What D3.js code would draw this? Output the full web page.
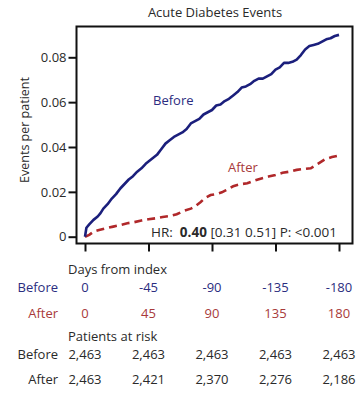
<!DOCTYPE html>
<html><head><meta charset="utf-8">
<script src="https://cdn.jsdelivr.net/npm/d3@7"></script>
<style>body{margin:0;background:#fff;} text{font-family:"Open Sans",sans-serif;}</style>
</head><body>
<svg id="c" width="364" height="408"></svg>
<script>
const title = "Acute Diabetes Events";
const yTicks = [0, 0.02, 0.04, 0.06, 0.08];
const xTicks = [0, 45, 90, 135, 180];
const beforeDayLabels = ["0", "-45", "-90", "-135", "-180"];
const afterDayLabels = ["0", "45", "90", "135", "180"];
const beforeAtRisk = ["2,463", "2,463", "2,463", "2,463", "2,463"];
const afterAtRisk = ["2,463", "2,421", "2,370", "2,276", "2,186"];
const beforeDays = [0,1,3,6,9,11,13,16,19,22,25,28,31,34,37,40,43,47,51,54,57,60,63,66,69,72,75,78,81,84,87,90,93,96,99,102,105,108,111,114,117,120,123,126,129,132,135,138,141,144,147,150,153,156,159,162,165,168,171,174,177,180];
const beforeVals = [0,0.004,0.0055,0.0075,0.009,0.0105,0.0125,0.0145,0.017,0.019,0.0215,0.0235,0.0255,0.027,0.029,0.0305,0.0325,0.0345,0.0365,0.039,0.0415,0.043,0.0445,0.0455,0.0465,0.048,0.0505,0.0515,0.0525,0.0545,0.0555,0.0565,0.0585,0.059,0.0605,0.0615,0.063,0.0645,0.0665,0.067,0.068,0.0695,0.0705,0.0705,0.0715,0.0725,0.0745,0.0755,0.0775,0.0775,0.078,0.079,0.081,0.0835,0.085,0.0855,0.086,0.087,0.088,0.0885,0.0895,0.09];
const afterDays = [0,3,6,10,15,20,25,30,35,40,45,50,55,60,65,70,75,78,82,85,89,93,97,100,105,110,115,120,125,130,135,140,145,150,155,160,165,170,175,180];
const afterVals = [0,0.0008,0.0022,0.003,0.0038,0.0045,0.0052,0.006,0.0065,0.0072,0.0078,0.0082,0.0088,0.0092,0.01,0.0115,0.0125,0.0135,0.0155,0.0172,0.0186,0.019,0.0198,0.0208,0.0225,0.0234,0.0238,0.025,0.026,0.0268,0.0275,0.0285,0.029,0.0298,0.0302,0.0305,0.0325,0.0345,0.0355,0.0362];

const navy = "#1b1f7c", red = "#b0282a";
const blueTxt = "#2b2d80", redTxt = "#a83a3a", ink = "#2a2a2a";
const FS = 13;
const svg = d3.select("#c");
const L = 76.5, R = 352.5, T = 26.5, B = 243.5;
const x = d3.scaleLinear().domain([0, 180]).range([85, 339]);
const y = d3.scaleLinear().domain([0, 0.08]).range([236.7, 57.3]);

svg.append("text").attr("x", 215).attr("y", 17).attr("text-anchor", "middle")
  .attr("font-size", FS).attr("fill", ink).text(title);

svg.append("rect").attr("x", L).attr("y", T).attr("width", R - L).attr("height", B - T)
  .attr("fill", "none").attr("stroke", "#111").attr("stroke-width", 2);

const yAxis = d3.axisLeft(y).tickValues(yTicks).tickSize(8).tickPadding(2)
  .tickFormat(d => d === 0 ? "0" : d3.format(".2f")(d));
const ga = svg.append("g").attr("transform", `translate(${L},0)`).call(yAxis);
ga.select(".domain").remove();
ga.selectAll(".tick line").attr("stroke", "#111").attr("stroke-width", 2);
ga.selectAll(".tick text").attr("font-size", FS).attr("fill", ink).attr("font-family", "Open Sans");

const xAxis = d3.axisBottom(x).tickValues(xTicks).tickSize(8).tickFormat("");
const gx = svg.append("g").attr("transform", `translate(0,${B})`).call(xAxis);
gx.select(".domain").remove();
gx.selectAll(".tick line").attr("stroke", "#111").attr("stroke-width", 2);

svg.append("text").attr("transform", "translate(29,130) rotate(-90)").attr("text-anchor", "middle")
  .attr("font-size", 12.5).attr("fill", ink).text("Events per patient");

const line = d3.line().x(d => x(d[0])).y(d => y(d[1]));
svg.append("path").datum(afterDays.map((d, i) => [d, afterVals[i]]))
  .attr("d", line).attr("fill", "none").attr("stroke", red).attr("stroke-width", 2.6)
  .attr("stroke-dasharray", "8,5");
svg.append("path").datum(beforeDays.map((d, i) => [d, beforeVals[i]]))
  .attr("d", line).attr("fill", "none").attr("stroke", navy).attr("stroke-width", 2.6)
  .attr("stroke-linejoin", "round");

svg.append("text").attr("x", 153).attr("y", 105).attr("font-size", FS).attr("fill", blueTxt).text("Before");
svg.append("text").attr("x", 228).attr("y", 172).attr("font-size", FS).attr("fill", redTxt).text("After");

const hr = svg.append("text").attr("x", 151).attr("y", 237).attr("font-size", 13.5).attr("fill", ink)
  .attr("xml:space", "preserve").style("white-space", "pre");
hr.append("tspan").text("HR:  ");
hr.append("tspan").attr("font-weight", "bold").text("0.40");
hr.append("tspan").text(" [0.31 0.51] P: <0.001");

// table
svg.append("text").attr("x", 68).attr("y", 274).attr("font-size", FS).attr("fill", ink).text("Days from index");
svg.append("text").attr("x", 68).attr("y", 341).attr("font-size", FS).attr("fill", ink).text("Patients at risk");

function row(labels, yy, name, color, nameColor, nameRight) {
  svg.append("text").attr("x", nameRight).attr("y", yy).attr("text-anchor", "end")
    .attr("font-size", FS).attr("fill", nameColor).text(name);
  svg.selectAll(null).data(labels).enter().append("text")
    .attr("x", (d, i) => x(xTicks[i])).attr("y", yy).attr("text-anchor", "middle")
    .attr("font-size", FS).attr("fill", color).text(d => d);
}
row(beforeDayLabels, 292, "Before", blueTxt, blueTxt, 58);
row(afterDayLabels, 318, "After", redTxt, redTxt, 58);
row(beforeAtRisk, 359, "Before", ink, ink, 58);
row(afterAtRisk, 384, "After", ink, ink, 58);
</script>
</body></html>
